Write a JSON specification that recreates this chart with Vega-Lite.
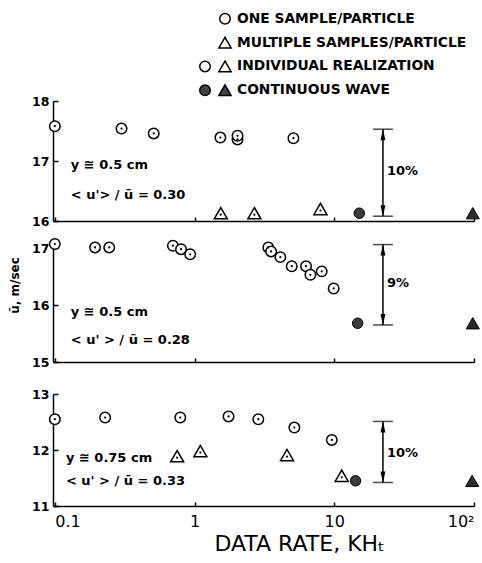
{
  "$schema": "https://vega.github.io/schema/vega-lite/v6.json",
  "padding": {"left": 8, "top": 10, "right": 0, "bottom": 0},
  "background": "white",
  "config": {
    "view": {"stroke": null},
    "font": "DejaVu Sans",
    "axis": {"grid": false, "domainColor": "#000", "tickColor": "#000", "labelColor": "#000", "titleColor": "#000", "domainWidth": 1.5, "tickWidth": 1.5, "labelFont": "DejaVu Sans", "titleFont": "DejaVu Sans", "labelOverlap": false},
    "text": {"font": "DejaVu Sans", "fontWeight": "bold", "fontSize": 13, "color": "#000"}
  },
  "datasets": {
    "legend": [
      {"kind": "sym", "row": 1, "col": "b", "shape": "circle", "fill": "open"},
      {"kind": "sym", "row": 2, "col": "b", "shape": "triangle", "fill": "open"},
      {"kind": "sym", "row": 3, "col": "a", "shape": "circle", "fill": "open"},
      {"kind": "sym", "row": 3, "col": "b", "shape": "triangle", "fill": "open"},
      {"kind": "sym", "row": 4, "col": "a", "shape": "circle", "fill": "solid"},
      {"kind": "sym", "row": 4, "col": "b", "shape": "triangle", "fill": "solid"},
      {"kind": "txt", "row": 1, "col": "b", "label": "ONE SAMPLE/PARTICLE"},
      {"kind": "txt", "row": 2, "col": "b", "label": "MULTIPLE SAMPLES/PARTICLE"},
      {"kind": "txt", "row": 3, "col": "b", "label": "INDIVIDUAL REALIZATION"},
      {"kind": "txt", "row": 4, "col": "b", "label": "CONTINUOUS WAVE"}
    ],
    "p1": [
      {"kind": "one", "x": 0.1, "y": 17.58},
      {"kind": "one", "x": 0.3, "y": 17.54},
      {"kind": "one", "x": 0.51, "y": 17.46},
      {"kind": "one", "x": 1.53, "y": 17.39},
      {"kind": "one", "x": 2.03, "y": 17.36},
      {"kind": "one", "x": 2.03, "y": 17.42},
      {"kind": "one", "x": 5.1, "y": 17.38},
      {"kind": "multi", "x": 1.54, "y": 16.13},
      {"kind": "multi", "x": 2.68, "y": 16.13},
      {"kind": "multi", "x": 7.96, "y": 16.2},
      {"kind": "cwc", "x": 15.1, "y": 16.13},
      {"kind": "cwt", "x": 98, "y": 16.13},
      {"kind": "eb", "x": 22.3, "y": 16.08, "y2": 17.53},
      {"kind": "top", "x": 22.3, "y": 17.53},
      {"kind": "bot", "x": 22.3, "y": 16.08},
      {"kind": "pct", "x": 22.3, "y": 16.83, "t": "10%"},
      {"kind": "lbl", "x": 0.13, "y": 16.93, "t": "y ≅ 0.5 cm"},
      {"kind": "lbl", "x": 0.13, "y": 16.43, "t": "< u'> / ū = 0.30"}
    ],
    "p2": [
      {"kind": "one", "x": 0.1, "y": 17.07},
      {"kind": "one", "x": 0.194, "y": 17.01},
      {"kind": "one", "x": 0.245, "y": 17.01},
      {"kind": "one", "x": 0.7, "y": 17.04},
      {"kind": "one", "x": 0.8, "y": 16.98},
      {"kind": "one", "x": 0.93, "y": 16.89},
      {"kind": "one", "x": 3.37, "y": 17.01},
      {"kind": "one", "x": 3.53, "y": 16.94},
      {"kind": "one", "x": 4.11, "y": 16.84},
      {"kind": "one", "x": 4.96, "y": 16.68},
      {"kind": "one", "x": 6.28, "y": 16.68},
      {"kind": "one", "x": 6.75, "y": 16.53},
      {"kind": "one", "x": 8.13, "y": 16.59},
      {"kind": "one", "x": 9.9, "y": 16.29},
      {"kind": "cwc", "x": 14.7, "y": 15.68},
      {"kind": "cwt", "x": 98, "y": 15.68},
      {"kind": "eb", "x": 22.3, "y": 15.65, "y2": 17.06},
      {"kind": "top", "x": 22.3, "y": 17.06},
      {"kind": "bot", "x": 22.3, "y": 15.65},
      {"kind": "pct", "x": 22.3, "y": 16.38, "t": "9%"},
      {"kind": "lbl", "x": 0.13, "y": 15.88, "t": "y ≅ 0.5 cm"},
      {"kind": "lbl", "x": 0.13, "y": 15.39, "t": "< u' > / ū = 0.28"}
    ],
    "p3": [
      {"kind": "one", "x": 0.1, "y": 12.55},
      {"kind": "one", "x": 0.229, "y": 12.58},
      {"kind": "one", "x": 0.79, "y": 12.58},
      {"kind": "one", "x": 1.75, "y": 12.6},
      {"kind": "one", "x": 2.86, "y": 12.55},
      {"kind": "one", "x": 5.18, "y": 12.4},
      {"kind": "one", "x": 9.6, "y": 12.18},
      {"kind": "multi", "x": 0.75, "y": 11.89},
      {"kind": "multi", "x": 1.1, "y": 11.98},
      {"kind": "multi", "x": 4.59, "y": 11.91},
      {"kind": "multi", "x": 11.3, "y": 11.54},
      {"kind": "cwc", "x": 14.2, "y": 11.45},
      {"kind": "cwt", "x": 97, "y": 11.45},
      {"kind": "eb", "x": 22.3, "y": 11.42, "y2": 12.51},
      {"kind": "top", "x": 22.3, "y": 12.51},
      {"kind": "bot", "x": 22.3, "y": 11.42},
      {"kind": "pct", "x": 22.3, "y": 11.95, "t": "10%"},
      {"kind": "lbl", "x": 0.12, "y": 11.85, "t": "y ≅ 0.75 cm"},
      {"kind": "lbl", "x": 0.12, "y": 11.44, "t": "< u' > / ū = 0.33"}
    ]
  },
  "spacing": -4,
  "vconcat": [
    {
      "width": 421,
      "height": 81,
      "data": {"name": "legend"},
      "encoding": {
        "x": {"field": "col", "type": "ordinal", "scale": {"type": "point", "domain": ["a", "b"], "range": [152, 172], "padding": 0}, "axis": null},
        "y": {"field": "row", "type": "ordinal", "scale": {"type": "point", "domain": [1, 2, 3, 4], "padding": 0.2}, "axis": null}
      },
      "layer": [
        {
          "transform": [{"filter": "datum.kind === 'sym' && datum.shape === 'circle'"}],
          "mark": {"type": "point", "shape": "circle", "filled": true, "stroke": "#000", "strokeWidth": 1.5, "size": 110, "opacity": 1},
          "encoding": {"fill": {"field": "fill", "type": "nominal", "scale": {"domain": ["open", "solid"], "range": ["#ffffff", "#444444"]}, "legend": null}}
        },
        {
          "transform": [{"filter": "datum.kind === 'sym' && datum.shape === 'triangle'"}],
          "mark": {"type": "point", "shape": "triangle-up", "filled": true, "stroke": "#000", "strokeWidth": 1.5, "size": 150, "opacity": 1},
          "encoding": {"fill": {"field": "fill", "type": "nominal", "scale": {"domain": ["open", "solid"], "range": ["#ffffff", "#333333"]}, "legend": null}}
        },
        {
          "transform": [{"filter": "datum.kind === 'txt'"}],
          "mark": {"type": "text", "align": "left", "baseline": "middle", "dx": 12, "fontSize": 13.8},
          "encoding": {"text": {"field": "label"}}
        }
      ]
    },
    {
      "spacing": 7,
      "vconcat": [
        {
          "width": 421,
          "height": 120,
          "data": {"name": "p1"},
          "encoding": {
            "x": {"field": "x", "type": "quantitative", "scale": {"type": "log", "domain": [0.097, 100], "nice": false}, "axis": {"values": [0.1, 1, 10, 100], "labels": false, "title": null, "tickSize": -4}},
            "y": {"field": "y", "type": "quantitative", "scale": {"domain": [16, 18], "nice": false, "zero": false}, "axis": {"values": [16, 17, 18], "labelExpr": "'' + round(datum.value)", "labelOverlap": false, "tickSize": -5, "labelPadding": 9, "labelFontSize": 12.5, "labelFontWeight": "bold", "title": null}}
          },
          "layer": [
            {"transform": [{"filter": "datum.kind === 'eb'"}], "mark": {"type": "rule", "strokeWidth": 1.5, "color": "#000"}, "encoding": {"y2": {"field": "y2"}}},
            {"transform": [{"filter": "datum.kind === 'top' || datum.kind === 'bot'"}], "mark": {"type": "tick", "orient": "horizontal", "size": 20, "thickness": 1.5, "color": "#000"}},
            {"transform": [{"filter": "datum.kind === 'top'"}], "mark": {"type": "point", "shape": "M0,-1L0.45,1L-0.45,1Z", "filled": true, "color": "#000", "size": 121, "opacity": 1, "yOffset": 5.5}},
            {"transform": [{"filter": "datum.kind === 'bot'"}], "mark": {"type": "point", "shape": "M0,1L0.45,-1L-0.45,-1Z", "filled": true, "color": "#000", "size": 121, "opacity": 1, "yOffset": -5.5}},
            {"transform": [{"filter": "datum.kind === 'one'"}], "mark": {"type": "point", "shape": "circle", "filled": true, "fill": "#fff", "stroke": "#000", "strokeWidth": 1.5, "size": 110, "opacity": 1}},
            {"transform": [{"filter": "datum.kind === 'one'"}], "mark": {"type": "circle", "size": 5, "color": "#000", "opacity": 1}},
            {"transform": [{"filter": "datum.kind === 'multi'"}], "mark": {"type": "point", "shape": "triangle-up", "filled": true, "fill": "#fff", "stroke": "#000", "strokeWidth": 1.5, "size": 170, "opacity": 1}},
            {"transform": [{"filter": "datum.kind === 'multi'"}], "mark": {"type": "circle", "size": 5, "color": "#000", "opacity": 1, "yOffset": 1.5}},
            {"transform": [{"filter": "datum.kind === 'cwc'"}], "mark": {"type": "point", "shape": "circle", "filled": true, "fill": "#3a3a3a", "stroke": "#000", "strokeWidth": 1, "size": 110, "opacity": 1}},
            {"transform": [{"filter": "datum.kind === 'cwt'"}], "mark": {"type": "point", "shape": "triangle-up", "filled": true, "fill": "#2a2a2a", "stroke": "#000", "strokeWidth": 1, "size": 170, "opacity": 1}},
            {"transform": [{"filter": "datum.kind === 'pct'"}], "mark": {"type": "text", "align": "left", "baseline": "middle", "dx": 4}, "encoding": {"text": {"field": "t"}}},
            {"transform": [{"filter": "datum.kind === 'lbl'"}], "mark": {"type": "text", "align": "left", "baseline": "middle"}, "encoding": {"text": {"field": "t"}}}
          ]
        },
        {
          "spacing": 19,
          "vconcat": [
            {
              "width": 421,
              "height": 114,
              "data": {"name": "p2"},
              "encoding": {
                "x": {"field": "x", "type": "quantitative", "scale": {"type": "log", "domain": [0.097, 100], "nice": false}, "axis": {"values": [0.1, 1, 10, 100], "labels": false, "title": null, "tickSize": -4}},
                "y": {"field": "y", "type": "quantitative", "scale": {"domain": [15, 17], "nice": false, "zero": false}, "axis": {"values": [15, 16, 17], "labelExpr": "'' + round(datum.value)", "labelOverlap": false, "tickSize": -5, "labelPadding": 9, "labelFontSize": 12.5, "labelFontWeight": "bold", "title": "ū, m/sec", "titleFontSize": 12, "titleFontWeight": "bold", "titlePadding": 10, "titleY": 37}}
              },
              "layer": [
                {"transform": [{"filter": "datum.kind === 'eb'"}], "mark": {"type": "rule", "strokeWidth": 1.5, "color": "#000"}, "encoding": {"y2": {"field": "y2"}}},
                {"transform": [{"filter": "datum.kind === 'top' || datum.kind === 'bot'"}], "mark": {"type": "tick", "orient": "horizontal", "size": 20, "thickness": 1.5, "color": "#000"}},
                {"transform": [{"filter": "datum.kind === 'top'"}], "mark": {"type": "point", "shape": "M0,-1L0.45,1L-0.45,1Z", "filled": true, "color": "#000", "size": 121, "opacity": 1, "yOffset": 5.5}},
                {"transform": [{"filter": "datum.kind === 'bot'"}], "mark": {"type": "point", "shape": "M0,1L0.45,-1L-0.45,-1Z", "filled": true, "color": "#000", "size": 121, "opacity": 1, "yOffset": -5.5}},
                {"transform": [{"filter": "datum.kind === 'one'"}], "mark": {"type": "point", "shape": "circle", "filled": true, "fill": "#fff", "stroke": "#000", "strokeWidth": 1.5, "size": 110, "opacity": 1}},
                {"transform": [{"filter": "datum.kind === 'one'"}], "mark": {"type": "circle", "size": 5, "color": "#000", "opacity": 1}},
                {"transform": [{"filter": "datum.kind === 'cwc'"}], "mark": {"type": "point", "shape": "circle", "filled": true, "fill": "#3a3a3a", "stroke": "#000", "strokeWidth": 1, "size": 110, "opacity": 1}},
                {"transform": [{"filter": "datum.kind === 'cwt'"}], "mark": {"type": "point", "shape": "triangle-up", "filled": true, "fill": "#2a2a2a", "stroke": "#000", "strokeWidth": 1, "size": 170, "opacity": 1}},
                {"transform": [{"filter": "datum.kind === 'pct'"}], "mark": {"type": "text", "align": "left", "baseline": "middle", "dx": 4}, "encoding": {"text": {"field": "t"}}},
                {"transform": [{"filter": "datum.kind === 'lbl'"}], "mark": {"type": "text", "align": "left", "baseline": "middle"}, "encoding": {"text": {"field": "t"}}}
              ]
            },
            {
              "width": 421,
              "height": 112,
              "data": {"name": "p3"},
              "encoding": {
                "x": {"field": "x", "type": "quantitative", "scale": {"type": "log", "domain": [0.097, 100], "nice": false}, "axis": {"values": [0.1, 1, 10, 100], "labelExpr": "datum.value >= 100 ? '10²' : datum.value >= 10 ? '10' : datum.value >= 1 ? '1' : '0.1'", "labelOverlap": false, "labelFontSize": 16, "labelPadding": 11, "labelFlush": 5, "title": "DATA RATE, KHₜ", "titleFontSize": 22, "titleFontWeight": "normal", "titlePadding": 4, "titleX": 246, "tickSize": -4}},
                "y": {"field": "y", "type": "quantitative", "scale": {"domain": [11, 13], "nice": false, "zero": false}, "axis": {"values": [11, 12, 13], "labelExpr": "'' + round(datum.value)", "labelOverlap": false, "tickSize": -5, "labelPadding": 9, "labelFontSize": 12.5, "labelFontWeight": "bold", "title": null}}
              },
              "layer": [
                {"transform": [{"filter": "datum.kind === 'eb'"}], "mark": {"type": "rule", "strokeWidth": 1.5, "color": "#000"}, "encoding": {"y2": {"field": "y2"}}},
                {"transform": [{"filter": "datum.kind === 'top' || datum.kind === 'bot'"}], "mark": {"type": "tick", "orient": "horizontal", "size": 20, "thickness": 1.5, "color": "#000"}},
                {"transform": [{"filter": "datum.kind === 'top'"}], "mark": {"type": "point", "shape": "M0,-1L0.45,1L-0.45,1Z", "filled": true, "color": "#000", "size": 121, "opacity": 1, "yOffset": 5.5}},
                {"transform": [{"filter": "datum.kind === 'bot'"}], "mark": {"type": "point", "shape": "M0,1L0.45,-1L-0.45,-1Z", "filled": true, "color": "#000", "size": 121, "opacity": 1, "yOffset": -5.5}},
                {"transform": [{"filter": "datum.kind === 'one'"}], "mark": {"type": "point", "shape": "circle", "filled": true, "fill": "#fff", "stroke": "#000", "strokeWidth": 1.5, "size": 110, "opacity": 1}},
                {"transform": [{"filter": "datum.kind === 'one'"}], "mark": {"type": "circle", "size": 5, "color": "#000", "opacity": 1}},
                {"transform": [{"filter": "datum.kind === 'multi'"}], "mark": {"type": "point", "shape": "triangle-up", "filled": true, "fill": "#fff", "stroke": "#000", "strokeWidth": 1.5, "size": 170, "opacity": 1}},
                {"transform": [{"filter": "datum.kind === 'multi'"}], "mark": {"type": "circle", "size": 5, "color": "#000", "opacity": 1, "yOffset": 1.5}},
                {"transform": [{"filter": "datum.kind === 'cwc'"}], "mark": {"type": "point", "shape": "circle", "filled": true, "fill": "#3a3a3a", "stroke": "#000", "strokeWidth": 1, "size": 110, "opacity": 1}},
                {"transform": [{"filter": "datum.kind === 'cwt'"}], "mark": {"type": "point", "shape": "triangle-up", "filled": true, "fill": "#2a2a2a", "stroke": "#000", "strokeWidth": 1, "size": 170, "opacity": 1}},
                {"transform": [{"filter": "datum.kind === 'pct'"}], "mark": {"type": "text", "align": "left", "baseline": "middle", "dx": 4}, "encoding": {"text": {"field": "t"}}},
                {"transform": [{"filter": "datum.kind === 'lbl'"}], "mark": {"type": "text", "align": "left", "baseline": "middle"}, "encoding": {"text": {"field": "t"}}}
              ]
            }
          ]
        }
      ]
    }
  ]
}
